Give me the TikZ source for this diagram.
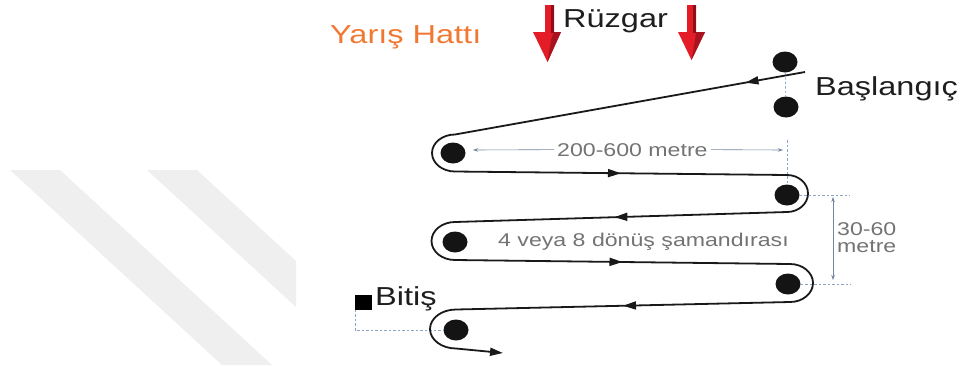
\documentclass[tikz,border=0pt]{standalone}
\usepackage{fontspec}
\setmainfont{Liberation Sans}[FakeStretch=1.25]
\usetikzlibrary{arrows.meta,shapes.geometric,decorations.markings}
\definecolor{orng}{RGB}{240,120,50}
\definecolor{txt}{RGB}{30,30,30}
\definecolor{gtxt}{RGB}{115,115,115}
\definecolor{dimc}{RGB}{115,135,160}
\definecolor{dashc}{RGB}{140,165,195}
\definecolor{wred}{RGB}{228,28,40}
\definecolor{dred}{RGB}{140,15,25}
\definecolor{wm}{RGB}{239,239,239}
\begin{document}
\begin{tikzpicture}[x=1pt,y=-1pt,
  big/.style={font=\fontsize{26}{28}\selectfont, text=txt, inner sep=0pt, anchor=base west},
  small/.style={font=\fontsize{18.5}{20}\selectfont, text=gtxt, inner sep=0pt, anchor=base west},
  buoy/.style={ellipse, fill=black!92, minimum width=25pt, minimum height=21pt, inner sep=0pt},
  course/.style={line width=1.8pt, black!90},
  coursetip/.style={-{Triangle[length=13pt,width=8pt]}},
  midarr/.style={decoration={markings, mark=at position #1 with {\arrow{Triangle[length=13pt,width=8pt]}}}, postaction={decorate}},
  dimline/.style={dimc, line width=0.6pt, >={Stealth[length=5pt,width=3.5pt]}},
  guide/.style={dashc, line width=0.7pt, dash pattern=on 2.5pt off 2pt},
]
\useasboundingbox (0,0) rectangle (965,365);
% watermark stripes
\fill[wm] (10,170) -- (60,170) -- (272,365) -- (222,365) -- cycle;
\fill[wm] (147,170) -- (197,170) -- (296,261) -- (296,307) -- cycle;

% title and wind
\node[big, text=orng] (title) at (330,43) {Yarış Hattı};
\node[big] (wind) at (563,27) {Rüzgar};
\fill[wred] (545,5) -- (554,5) -- (554,32) -- (561,32) -- (547.5,62) -- (533,32) -- (545,32) -- cycle;
\fill[dred] (551,5) -- (554,5) -- (554,33) -- (551,33) -- cycle;
\fill[dred!70!wred] (554,32) -- (561,32) -- (547.5,62) -- (551,40) -- cycle;
\fill[wred] (687,5) -- (696,5) -- (696,32) -- (705,32) -- (691.5,60) -- (678,32) -- (687,32) -- cycle;
\fill[dred] (693,5) -- (696,5) -- (696,33) -- (693,33) -- cycle;
\fill[dred!70!wred] (696,32) -- (705,32) -- (691.5,60) -- (695,40) -- cycle;

% buoys
\node[buoy] (s1) at (785,62) {};
\node[buoy] (s2) at (786,107) {};
\node[buoy] (b1) at (453,153) {};
\node[buoy] (b2) at (787,195) {};
\node[buoy] (b3) at (455,242) {};
\node[buoy] (b4) at (788,284) {};
\node[buoy] (b5) at (456,330) {};

% labels
\node[big] (start) at (815,95) {Başlangıç};
\node[big] (finish) at (375,305) {Bitiş};
\node[fill=black, minimum width=16.5pt, minimum height=14.5pt, inner sep=0pt, anchor=north west] (fsq) at (355,295) {};
\node[small] (len) at (557,156) {200-600 metre};
\node[small] (turns) at (498,246.7) {4 veya 8 dönüş şamandırası};
\node[small] (gapa) at (837,235) {30-60};
\node[small] (gapb) at (837,252.7) {metre};

% guides
\draw[guide] (s1) -- (s2);
\draw[guide] (787,140) -- (b2.north);
\draw[guide] (b2.east) -- ++(50,0);
\draw[guide] (b4.east) -- ++(50,0);
\draw[guide] (fsq.south west) -- (fsq.south west |- b5) -- (b5.west);

% dimensions
\draw[dimline, <-] (473,150) -- ([xshift=-3pt]len.west);
\draw[dimline, ->] ([xshift=3pt]len.east) -- (783,150);
\draw[dimline, <->] (833,197) -- (833,280);

% course
\draw[course, midarr=0.17] (805,72) -- (455,134.5);
\draw[course] (455,134.5) arc[start angle=270, end angle=90, x radius=23, y radius=18.5];
\draw[course, midarr=0.5] (455,171.5) -- (787,175);
\draw[course] (787,175) arc[start angle=-90, end angle=90, x radius=21, y radius=18.5];
\draw[course, midarr=0.52] (787,212) -- (455,222);
\draw[course] (455,222) arc[start angle=270, end angle=90, x radius=23.5, y radius=19];
\draw[course, midarr=0.5] (455,260) -- (790,264);
\draw[course] (790,264) arc[start angle=-90, end angle=90, x radius=23, y radius=19];
\draw[course, midarr=0.5] (790,302) -- (456,309.5);
\draw[course] (456,309.5) arc[start angle=270, end angle=90, x radius=26, y radius=19.5];
\draw[course, coursetip] (456,348.5) -- (503,353);
\end{tikzpicture}
\end{document}
